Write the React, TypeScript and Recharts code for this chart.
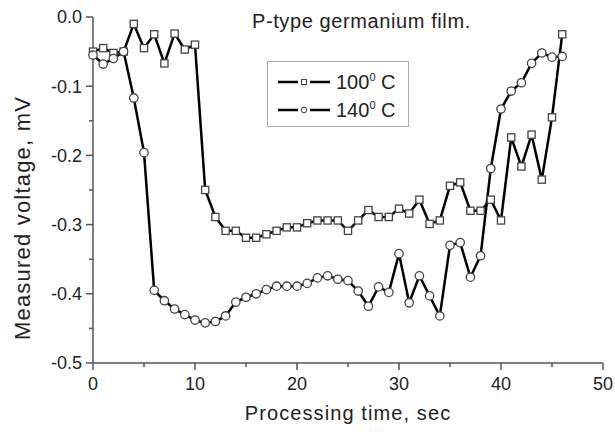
import { LineChart, Line, XAxis, YAxis, Legend } from 'recharts';

const time = [
  0, 1, 2, 3, 4, 5, 6, 7, 8, 9, 10, 11, 12, 13, 14, 15, 16, 17, 18, 19, 20, 21, 22, 23,
  24, 25, 26, 27, 28, 29, 30, 31, 32, 33, 34, 35, 36, 37, 38, 39, 40, 41, 42, 43, 44, 45, 46,
];

// 100 C, square markers
const volt100 = [
  -0.05, -0.045, -0.052, -0.05, -0.01, -0.045, -0.025, -0.067, -0.024, -0.047, -0.04,
  -0.25, -0.289, -0.309, -0.309, -0.319, -0.319, -0.314, -0.309, -0.304, -0.304, -0.298,
  -0.294, -0.294, -0.294, -0.309, -0.294, -0.279, -0.289, -0.289, -0.277, -0.284, -0.264,
  -0.299, -0.294, -0.244, -0.239, -0.28, -0.28, -0.264, -0.294, -0.174, -0.216, -0.17,
  -0.235, -0.145, -0.025,
];

// 140 C, circle markers
const volt140 = [
  -0.055, -0.068, -0.06, -0.05, -0.117, -0.196, -0.395, -0.41, -0.422, -0.43, -0.438,
  -0.442, -0.44, -0.432, -0.412, -0.405, -0.4, -0.394, -0.389, -0.389, -0.389, -0.385,
  -0.377, -0.374, -0.379, -0.381, -0.396, -0.418, -0.39, -0.398, -0.342, -0.413, -0.374,
  -0.403, -0.432, -0.33, -0.326, -0.376, -0.345, -0.219, -0.133, -0.107, -0.095, -0.067,
  -0.052, -0.058, -0.057,
];

const xTicks = [0, 5, 10, 15, 20, 25, 30, 35, 40, 45, 50];
const yTicks = [0, -0.05, -0.1, -0.15, -0.2, -0.25, -0.3, -0.35, -0.4, -0.45, -0.5];

const data = time.map((t, i) => ({ t, v100: volt100[i], v140: volt140[i] }));

const font = '"Liberation Sans", Arial, sans-serif';
const axisColor = '#555';

const XTick = (props: any) => {
  const { x, y, payload } = props;
  const major = payload.value % 10 === 0;
  return (
    <g>
      <line x1={x} y1={y} x2={x} y2={y + (major ? 7 : 4)} stroke={axisColor} strokeWidth={1.5} />
      {major && (
        <text x={x} y={y + 27} textAnchor="middle" fontSize={18} fontFamily={font} fill="#222">
          {payload.value}
        </text>
      )}
    </g>
  );
};

const YTick = (props: any) => {
  const { x, y, payload } = props;
  const v = Math.round(payload.value * 100);
  const major = v % 10 === 0;
  return (
    <g>
      <line x1={x} y1={y} x2={x - (major ? 7 : 4)} y2={y} stroke={axisColor} strokeWidth={1.5} />
      {major && (
        <text x={x - 11} y={y} dy="0.35em" textAnchor="end" fontSize={18} fontFamily={font} fill="#222">
          {(v / 100).toFixed(1)}
        </text>
      )}
    </g>
  );
};

const SquareDot = (props: any) => {
  const { cx, cy, index } = props;
  return (
    <rect key={`s${index}`} x={cx - 3.6} y={cy - 3.6} width={7.2} height={7.2}
      fill="#fff" stroke="#444" strokeWidth={1.3} />
  );
};

const CircleDot = (props: any) => {
  const { cx, cy, index } = props;
  return <circle key={`c${index}`} cx={cx} cy={cy} r={4.2} fill="#fff" stroke="#444" strokeWidth={1.3} />;
};

const LegendBox = () => {
  const rows = [
    { label: '100', shape: 'square' },
    { label: '140', shape: 'circle' },
  ];
  return (
    <div style={{
      width: 142, height: 66, border: '1.5px solid #aaa', background: '#fff',
      fontFamily: font, fontSize: 20, color: '#222', paddingTop: 6, boxSizing: 'border-box',
    }}>
      {rows.map((r) => (
        <div key={r.label} style={{ display: 'flex', alignItems: 'center', height: 28 }}>
          <svg width={52} height={12} style={{ marginLeft: 10, marginRight: 6 }}>
            <line x1={0} y1={6} x2={20} y2={6} stroke="#000" strokeWidth={2.5} />
            <line x1={32} y1={6} x2={52} y2={6} stroke="#000" strokeWidth={2.5} />
            {r.shape === 'square'
              ? <rect x={23.5} y={3.5} width={5} height={5} fill="#fff" stroke="#444" strokeWidth={1} />
              : <circle cx={26} cy={6} r={2.8} fill="#fff" stroke="#444" strokeWidth={1} />}
          </svg>
          <span>
            {r.label}
            <sup style={{ fontSize: 11, verticalAlign: 'super' }}>0</sup> C
          </span>
        </div>
      ))}
    </div>
  );
};

export default function App() {
  return (
    <div style={{ position: 'absolute', left: 0, top: 0, width: 615, height: 432, background: '#fff' }}>
      <div style={{
        position: 'absolute', left: 252, top: 11, fontFamily: font, fontSize: 20,
        lineHeight: '20px', letterSpacing: 0.6, color: '#222', whiteSpace: 'nowrap',
      }}>
        P-type germanium film.
      </div>
      <LineChart width={615} height={432} data={data} margin={{ top: 17, right: 12, bottom: 0, left: 0 }}>
        <XAxis
          dataKey="t"
          type="number"
          domain={[0, 50]}
          ticks={xTicks}
          interval={0}
          height={69}
          tickSize={0}
          tickMargin={0}
          tick={XTick}
          stroke={axisColor}
          strokeWidth={1.5}
          label={{
            content: () => (
              <text x={348} y={420} textAnchor="middle" fontSize={20} letterSpacing={1.1}
                fontFamily={font} fill="#222">
                Processing time, sec
              </text>
            ),
          }}
        />
        <YAxis
          type="number"
          domain={[-0.5, 0]}
          ticks={yTicks}
          interval={0}
          width={93}
          tickSize={0}
          tickMargin={0}
          tick={YTick}
          stroke={axisColor}
          strokeWidth={1.5}
          label={{
            content: () => (
              <text x={30} y={218} transform="rotate(-90 30 218)" textAnchor="middle" fontSize={22}
                letterSpacing={1.2} fontFamily={font} fill="#222">
                Measured voltage, mV
              </text>
            ),
          }}
        />
        <Legend
          layout="vertical"
          align="center"
          verticalAlign="middle"
          content={LegendBox}
          wrapperStyle={{ left: 267, top: 61, width: 145, height: 70 }}
        />
        <Line
          type="linear"
          dataKey="v100"
          name="100 C"
          stroke="#000"
          strokeWidth={2.5}
          dot={SquareDot}
          isAnimationActive={false}
        />
        <Line
          type="linear"
          dataKey="v140"
          name="140 C"
          stroke="#000"
          strokeWidth={2.5}
          dot={CircleDot}
          isAnimationActive={false}
        />
      </LineChart>
    </div>
  );
}
